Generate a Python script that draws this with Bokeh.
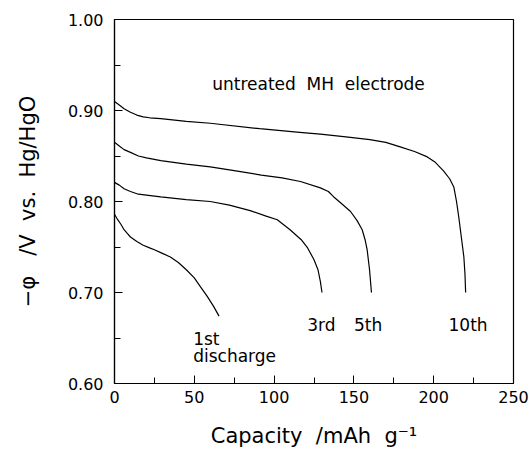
from bokeh.plotting import figure
from bokeh.models import FixedTicker, Range1d, CustomJSTickFormatter
from bokeh.core.properties import value
from bokeh.embed import file_html
from bokeh.resources import INLINE

# Data
cap_1st = [0, 2, 4, 6, 8, 10, 14, 18, 22, 25, 30, 35, 40, 45, 50, 54, 58, 62, 65.5]
v_1st = [0.786, 0.780, 0.775, 0.769, 0.765, 0.761, 0.756, 0.752, 0.749, 0.747, 0.743,
         0.739, 0.733, 0.725, 0.716, 0.706, 0.696, 0.685, 0.674]

cap_3rd = [0, 3, 6, 10, 15, 20, 29, 45, 60, 72, 85, 95, 102, 110, 117, 121, 125, 127.5, 129, 130]
v_3rd = [0.821, 0.818, 0.814, 0.811, 0.808, 0.807, 0.805, 0.802, 0.800, 0.796, 0.790,
         0.784, 0.780, 0.769, 0.758, 0.749, 0.736, 0.725, 0.712, 0.700]

cap_5th = [0, 3, 6, 10, 15, 20, 29, 45, 60, 75, 92, 105, 116.5, 129, 134, 137.4, 142,
           147.9, 152, 155.2, 157, 158.3, 159.8, 161]
v_5th = [0.865, 0.861, 0.857, 0.854, 0.850, 0.848, 0.845, 0.841, 0.838, 0.834, 0.829,
         0.826, 0.822, 0.815, 0.811, 0.805, 0.798, 0.789, 0.779, 0.769, 0.758, 0.747, 0.725, 0.700]

cap_10th = [0, 3, 6, 10, 14, 18, 22, 29, 45, 60, 91, 116, 129, 145, 160, 170, 179, 188,
            196, 201, 206, 210, 212.6, 214.3, 215.7, 217.3, 218.9, 219.6, 220]
v_10th = [0.910, 0.906, 0.902, 0.898, 0.895, 0.893, 0.892, 0.891, 0.888, 0.886, 0.880,
          0.876, 0.874, 0.871, 0.868, 0.865, 0.860, 0.855, 0.849, 0.843, 0.834, 0.825,
          0.816, 0.800, 0.783, 0.761, 0.739, 0.720, 0.700]

x_ticks = [0, 50, 100, 150, 200, 250]
x_minor = [25, 75, 125, 175, 225]
y_ticks = [0.60, 0.70, 0.80, 0.90, 1.00]
y_minor = [0.65, 0.75, 0.85, 0.95]

FONT = "DejaVu Sans"
NB = "\u00a0"

p = figure(width=529, height=450, output_backend="svg", toolbar_location=None,
           x_range=Range1d(0, 250), y_range=Range1d(0.60, 1.00),
           min_border_left=114, min_border_right=16, min_border_top=19, min_border_bottom=66)
p.background_fill_color = "white"
p.border_fill_color = "white"
p.outline_line_color = "black"
p.outline_line_width = 1.2
p.xgrid.visible = False
p.ygrid.visible = False

for ax in (p.xaxis[0], p.yaxis[0]):
    ax.axis_line_color = "black"
    ax.axis_line_width = 1.2
    ax.major_tick_in = 8
    ax.major_tick_out = 0
    ax.minor_tick_in = 6
    ax.minor_tick_out = 0
    ax.major_tick_line_color = "black"
    ax.minor_tick_line_color = "black"
    ax.major_label_text_font = FONT
    ax.major_label_text_font_size = "16px"
    ax.major_label_text_color = "black"
    ax.axis_label_text_font = FONT
    ax.axis_label_text_font_style = "normal"
    ax.axis_label_text_font_size = "21px"
    ax.axis_label_text_color = "black"

p.xaxis[0].ticker = FixedTicker(ticks=x_ticks, minor_ticks=x_minor)
p.yaxis[0].ticker = FixedTicker(ticks=y_ticks, minor_ticks=y_minor)
p.yaxis[0].formatter = CustomJSTickFormatter(code="return tick.toFixed(2);")
p.xaxis[0].major_label_standoff = 7
p.yaxis[0].major_label_standoff = 11
p.xaxis[0].axis_label = "Capacity" + NB * 2 + "/mAh" + NB * 2 + "g\u207b\u00b9"
p.yaxis[0].axis_label = "\u2212\u03c6" + NB * 3 + "/V" + NB * 2 + "vs." + NB * 2 + "Hg/HgO"
p.xaxis[0].axis_label_standoff = 18
p.yaxis[0].axis_label_standoff = 25

for cx, vy in ((cap_1st, v_1st), (cap_3rd, v_3rd), (cap_5th, v_5th), (cap_10th, v_10th)):
    p.line(cx, vy, line_color="black", line_width=1.2)

labels = [
    ("untreated" + NB * 2 + "MH" + NB * 2 + "electrode", 61.2, 0.9295),
    ("1st", 49.3, 0.649),
    ("discharge", 49.3, 0.6304),
    ("3rd", 120.7, 0.6644),
    ("5th", 150, 0.6644),
    ("10th", 209.3, 0.6644),
]
for t, lx, ly in labels:
    p.text(x=[lx], y=[ly], text=[t], text_font=value(FONT), text_font_size="17px",
           text_color="black", text_baseline="alphabetic", text_align="left")

open("out.html", "w").write(file_html(p, INLINE))
